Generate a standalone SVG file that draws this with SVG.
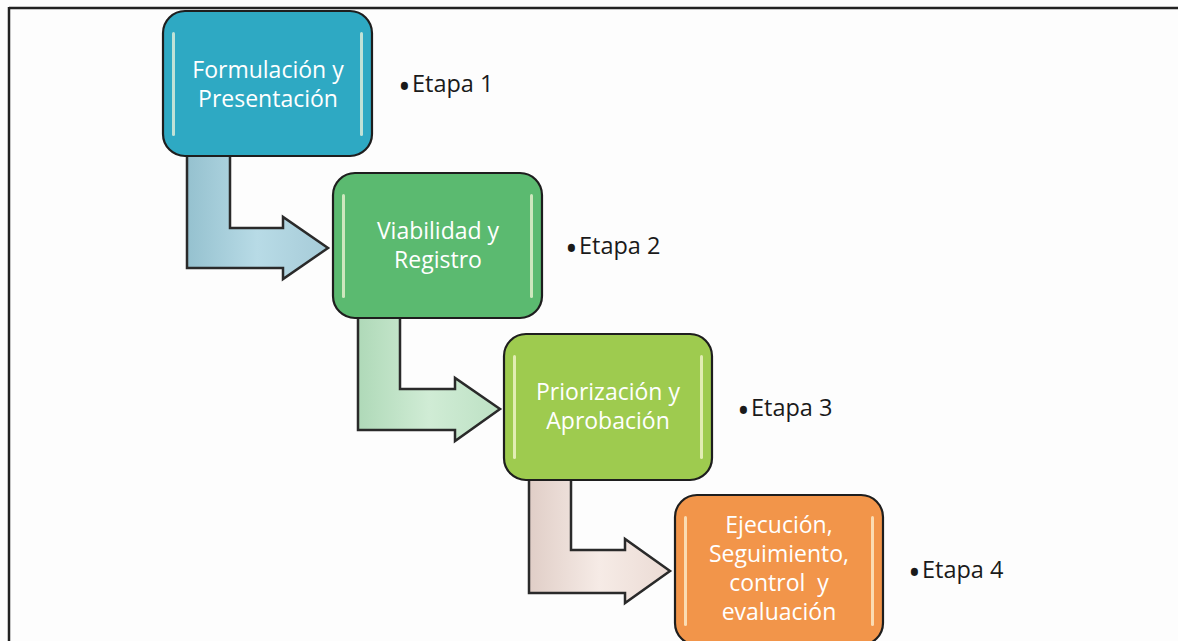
<svg xmlns="http://www.w3.org/2000/svg" width="1178" height="641" viewBox="0 0 1178 641">
<defs>
<style>
.box{stroke:#1e1e1e;stroke-width:2.2}
.arr{stroke:#2a2a2a;stroke-width:2.5;stroke-linejoin:miter}
.lbl{font-family:"Open Sans","Noto Sans",sans-serif;font-size:23px;fill:#ffffff;text-anchor:middle}
.etapa{font-family:"Open Sans","Noto Sans",sans-serif;font-size:23.5px;fill:#1a1a1a}
.bul{font-size:34px}
.hl{fill:#fffbe0;opacity:0.7}
</style>
<linearGradient id="g1" x1="0" y1="0" x2="1" y2="0"><stop offset="0" stop-color="#95c1cf"/><stop offset="0.5" stop-color="#b8dbe6"/><stop offset="1" stop-color="#a6cbd8"/></linearGradient>
<linearGradient id="g2" x1="0" y1="0" x2="1" y2="0"><stop offset="0" stop-color="#afd9b8"/><stop offset="0.5" stop-color="#d0ecd5"/><stop offset="1" stop-color="#bde1c4"/></linearGradient>
<linearGradient id="g3" x1="0" y1="0" x2="1" y2="0"><stop offset="0" stop-color="#e0cec7"/><stop offset="0.5" stop-color="#f6ebe6"/><stop offset="1" stop-color="#ebdbd4"/></linearGradient>
</defs>
<rect x="0" y="0" width="1178" height="641" fill="#fdfdfd"/>
<g id="frame">
<line x1="9" y1="8" x2="1178" y2="8" stroke="#222" stroke-width="2.5"/>
<line x1="9" y1="7" x2="9" y2="641" stroke="#222" stroke-width="2.5"/>
</g>
<g id="connectors">
<path class="arr" fill="url(#g1)" d="M187,150 L230,150 L230,228 L283,228 L283,217 L328,248 L283,279 L283,268 L187,268 Z"/>
<path class="arr" fill="url(#g2)" d="M358,311 L400,311 L400,389 L455,389 L455,378 L500,409 L455,441 L455,430 L358,430 Z"/>
<path class="arr" fill="url(#g3)" d="M529,473 L571,473 L571,550 L625,550 L625,539 L670,571 L625,603 L625,593 L529,593 Z"/>
</g>
<g id="node1">
<rect class="box" x="163" y="11" width="209" height="145" rx="22" fill="#2ea9c3"/>
<rect class="hl" x="172" y="32" width="3" height="104" rx="1.5"/>
<rect class="hl" x="360" y="32" width="3" height="104" rx="1.5"/>
<text class="lbl" x="268" y="78">Formulación y</text>
<text class="lbl" x="268" y="107">Presentación</text>
</g>
<g id="node2">
<rect class="box" x="333" y="173" width="209" height="145" rx="22" fill="#5bba70"/>
<rect class="hl" x="342" y="194" width="3" height="104" rx="1.5"/>
<rect class="hl" x="530" y="194" width="3" height="104" rx="1.5"/>
<text class="lbl" x="438" y="239">Viabilidad y</text>
<text class="lbl" x="438" y="268">Registro</text>
</g>
<g id="node3">
<rect class="box" x="504" y="334" width="208" height="146" rx="22" fill="#9ecb4f"/>
<rect class="hl" x="513" y="355" width="3" height="104" rx="1.5"/>
<rect class="hl" x="700" y="355" width="3" height="104" rx="1.5"/>
<text class="lbl" x="608" y="400">Priorización y</text>
<text class="lbl" x="608" y="429">Aprobación</text>
</g>
<g id="node4">
<rect class="box" x="675" y="495" width="208" height="150" rx="22" fill="#f2954a"/>
<rect class="hl" x="684" y="516" width="3" height="110" rx="1.5"/>
<rect class="hl" x="871" y="516" width="3" height="110" rx="1.5"/>
<text class="lbl" x="779" y="533">Ejecución,</text>
<text class="lbl" x="779" y="562">Seguimiento,</text>
<text class="lbl" x="779" y="591" xml:space="preserve">control  y</text>
<text class="lbl" x="779" y="620">evaluación</text>
</g>
<g id="etapa1"><text class="etapa" x="398" y="99"><tspan class="bul">•</tspan><tspan x="412" y="92">Etapa 1</tspan></text></g>
<g id="etapa2"><text class="etapa" x="565" y="261"><tspan class="bul">•</tspan><tspan x="579" y="254">Etapa 2</tspan></text></g>
<g id="etapa3"><text class="etapa" x="737" y="423"><tspan class="bul">•</tspan><tspan x="751" y="416">Etapa 3</tspan></text></g>
<g id="etapa4"><text class="etapa" x="908" y="585"><tspan class="bul">•</tspan><tspan x="922" y="578">Etapa 4</tspan></text></g>
</svg>
